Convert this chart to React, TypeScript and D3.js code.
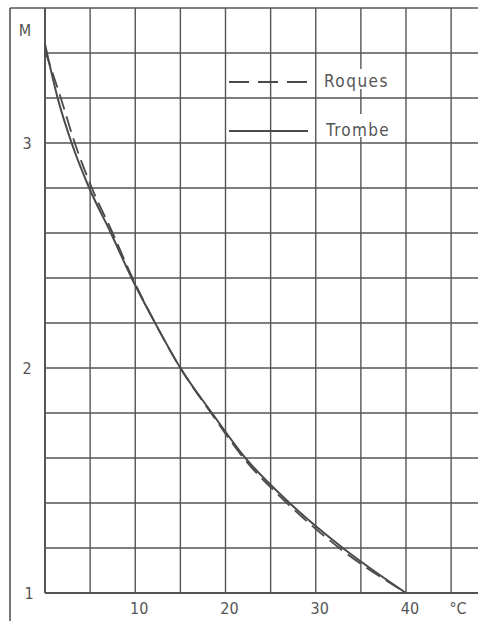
import * as d3 from "d3";

// temperature (°C) and M
const trombeT = [0, 1.4, 2.95, 4.9, 7.3, 9.6, 12.2, 15, 18.5, 22.2, 27.1, 33, 40];
const trombeM = [3.44, 3.2, 3.0, 2.8, 2.6, 2.4, 2.2, 2.0, 1.8, 1.6, 1.4, 1.2, 1.0];

const roquesT = [0, 1.75, 3.3, 5.2, 7.5, 9.7, 12.2, 15, 18.4, 22.0, 26.8, 32.6, 40];
const roquesM = [3.41, 3.2, 3.0, 2.8, 2.6, 2.4, 2.2, 2.0, 1.8, 1.6, 1.4, 1.2, 1.0];

const xTicks = [10, 20, 30, 40];
const yTicks = [1, 2, 3];
const xGrid = [5, 10, 15, 20, 25, 30, 35, 40, 45];
const yGrid = [1.2, 1.4, 1.6, 1.8, 2.0, 2.2, 2.4, 2.6, 2.8, 3.0, 3.2, 3.4];

const W = 478;
const H = 621;
const INK = "#555";
const FONT = "'DejaVu Sans Condensed', 'DejaVu Sans', sans-serif";

export default function App() {
  const x = d3.scaleLinear().domain([0, 40]).range([45, 406]);
  const y = d3.scaleLinear().domain([1, 3.6]).range([593, 8]);

  const line = d3.line<[number, number]>()
    .x(d => x(d[0]))
    .y(d => y(d[1]))
    .curve(d3.curveMonotoneX);

  const trombe = trombeT.map((t, i) => [t, trombeM[i]] as [number, number]);
  const roques = roquesT.map((t, i) => [t, roquesM[i]] as [number, number]);

  return (
    <svg width={W} height={H} style={{ position: "absolute", left: 0, top: 0, background: "#fff" }}>
      <rect width={W} height={H} fill="#fff" />
      {/* grid */}
      {xGrid.map(t => (
        <line key={"vx" + t} x1={x(t)} x2={x(t)} y1={y(3.6)} y2={y(1)} stroke={INK} strokeWidth={1.4} />
      ))}
      {yGrid.map(m => (
        <line key={"hy" + m} x1={x(0)} x2={W} y1={y(m)} y2={y(m)} stroke={INK} strokeWidth={1.4} />
      ))}
      {/* frame */}
      <line x1={10} x2={W} y1={y(3.6)} y2={y(3.6)} stroke={INK} strokeWidth={1.6} />
      <line x1={10} x2={10} y1={y(3.6)} y2={H} stroke={INK} strokeWidth={1.6} />
      <line x1={x(0)} x2={x(0)} y1={y(3.6)} y2={y(1)} stroke={INK} strokeWidth={2} />
      <line x1={x(0)} x2={W} y1={y(1)} y2={y(1)} stroke={INK} strokeWidth={2} />

      {/* curves */}
      <path d={line(roques) || ""} fill="none" stroke="#4a4a4a" strokeWidth={1.8} strokeDasharray="16,7" />
      <path d={line(trombe) || ""} fill="none" stroke="#4a4a4a" strokeWidth={2} />

      {/* legend */}
      <rect x={322} y={69} width={72} height={20} fill="#fff" />
      <rect x={322} y={114} width={74} height={23} fill="#fff" />
      <line x1={229} x2={308} y1={82} y2={82} stroke="#4a4a4a" strokeWidth={1.8} strokeDasharray="20,9" />
      <line x1={229} x2={308} y1={131} y2={131} stroke="#4a4a4a" strokeWidth={2} />
      <text x={324} y={87} fontFamily={FONT} fontSize={17} fill={INK} letterSpacing={1.5}>Roques</text>
      <text x={326} y={136} fontFamily={FONT} fontSize={17} fill={INK} letterSpacing={1.3}>Trombe</text>

      {/* axis labels */}
      {yTicks.map(m => (
        <text key={"yt" + m} x={m === 1 ? 29 : 27} y={y(m) + 6} textAnchor="middle" fontFamily={FONT} fontSize={16} fill={INK}>{m}</text>
      ))}
      <text x={25} y={36} textAnchor="middle" fontFamily={FONT} fontSize={16} fill={INK}>M</text>
      {xTicks.map(t => (
        <text key={"xt" + t} x={x(t) + 4} y={614} textAnchor="middle" fontFamily={FONT} fontSize={16} fill={INK}>{t}</text>
      ))}
      <text x={458} y={614} textAnchor="middle" fontFamily={FONT} fontSize={16} fill={INK}>°C</text>
    </svg>
  );
}
